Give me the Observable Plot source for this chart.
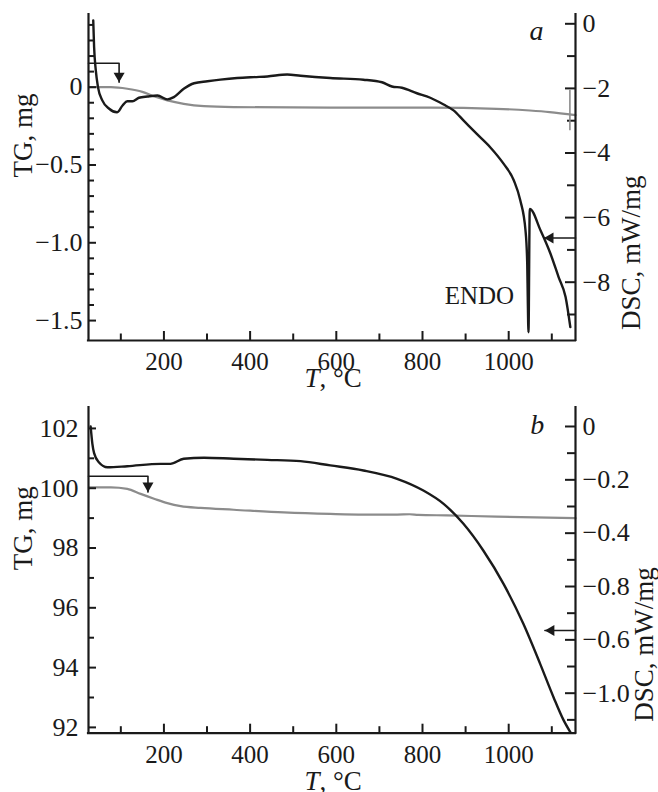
<!DOCTYPE html>
<html><head><meta charset="utf-8">
<script src="https://cdn.jsdelivr.net/npm/d3@7"></script>
<script src="https://cdn.jsdelivr.net/npm/@observablehq/plot@0.6"></script>
<style>
body{margin:0;background:#fff;}
#chart svg{display:block;}
</style></head><body><div id="chart"></div>
<script>
// ---------- shared x axis ----------
const xDomain = [25, 1155];
const xMajorTicks = [200, 400, 600, 800, 1000];
const xTickLabels = ["200", "400", "600", "800", "1000"];
const xMinorTicks = [100, 300, 500, 700, 900, 1100];

// ---------- panel a ----------
const aTgDomain = [-1.628, 0.467];
const aDscDomain = [-9.805, 0.288];
const aTgTicks = [0, -0.5, -1.0, -1.5];
const aTgTickLabels = ["0", "−0.5", "−1.0", "−1.5"];
const aTgMinorTicks = [0.4, 0.3, 0.2, 0.1, -0.1, -0.2, -0.3, -0.4, -0.6, -0.7, -0.8, -0.9, -1.1, -1.2, -1.3, -1.4];
const aDscTicks = [0, -2, -4, -6, -8];
const aDscTickLabels = ["0", "−2", "−4", "−6", "−8"];
const aDscMinorTicks = [-1, -3, -5, -7, -9];

const aDscT = [36, 38, 42, 47, 57, 73, 91, 104, 115, 127, 142, 162, 185, 208, 223, 246, 270, 301, 331, 370, 409, 440, 486, 517, 586, 663, 706, 729, 752, 787, 818, 849, 872, 895, 926, 957, 988, 1012, 1027, 1039, 1043, 1044.2, 1045.9, 1048.9, 1074, 1097, 1116, 1132, 1143];
const aDscV = [0.10, -0.72, -1.45, -1.96, -2.37, -2.63, -2.74, -2.53, -2.40, -2.40, -2.29, -2.25, -2.22, -2.34, -2.27, -2.01, -1.84, -1.78, -1.73, -1.68, -1.65, -1.63, -1.57, -1.61, -1.68, -1.73, -1.81, -1.94, -1.98, -2.15, -2.29, -2.50, -2.68, -2.99, -3.41, -3.82, -4.33, -4.85, -5.47, -6.40, -7.43, -8.46, -9.55, -5.73, -6.40, -7.12, -7.85, -8.46, -9.39];
const aTgT = [26, 77, 115, 150, 180, 208, 246, 293, 362, 586, 818, 972, 1049, 1095, 1155];
const aTgV = [0.0, 0.0, -0.01, -0.03, -0.062, -0.085, -0.107, -0.122, -0.128, -0.132, -0.132, -0.139, -0.15, -0.16, -0.18];

const aArrowLeftT = [25, 96, 96];
const aArrowLeftTg = [0.154, 0.154, 0.032];
const aArrowRightT = [1155, 1082];
const aArrowRightDsc = [-6.63, -6.63];
const aBarT = [1142];
const aBarTg = [-0.02, -0.28];
const aEndo = {T: 932, dsc: -8.67, label: "ENDO"};

// ---------- panel b ----------
const bTgDomain = [91.806, 102.70];
const bDscDomain = [-1.150, 0.0712];
const bTgTicks = [102, 100, 98, 96, 94, 92];
const bTgTickLabels = ["102", "100", "98", "96", "94", "92"];
const bTgMinorTicks = [101, 99, 97, 95, 93];
const bDscTicks = [0, -0.2, -0.4, -0.6, -0.8, -1.0];
const bDscTickLabels = ["0", "−0.2", "−0.4", "−0.8", "−0.6", "−1.0"];
const bDscMinorTicks = [-0.1, -0.3, -0.5, -0.7, -0.9, -1.1];

const bDscT = [30, 34, 38, 49, 69, 115, 192, 215, 246, 293, 362, 440, 517, 586, 663, 741, 802, 849, 895, 941, 988, 1034, 1073, 1104, 1127, 1143];
const bDscV = [0.0, -0.065, -0.10, -0.134, -0.153, -0.149, -0.14, -0.14, -0.121, -0.117, -0.121, -0.125, -0.130, -0.146, -0.165, -0.196, -0.24, -0.29, -0.365, -0.465, -0.59, -0.74, -0.89, -1.015, -1.10, -1.146];
const bTgT = [26, 77, 115, 146, 177, 208, 239, 285, 362, 478, 586, 663, 741, 770, 790, 856, 972, 1155];
const bTgV = [100.03, 100.03, 99.98, 99.81, 99.65, 99.50, 99.40, 99.34, 99.28, 99.19, 99.14, 99.12, 99.12, 99.13, 99.11, 99.09, 99.05, 99.0];

const bArrowLeftT = [25, 163, 163];
const bArrowLeftTg = [100.40, 100.40, 99.87];
const bArrowRightT = [1155, 1084];
const bArrowRightDsc = [-0.765, -0.765];

const INK = "#1a1a1a", GREY = "#8c8c8c";
const FONT = "'Liberation Serif', 'Times New Roman', serif";

function panel(cfg) {
  const W = 658, H = cfg.height, mt = cfg.marginTop, mb = cfg.marginBottom, ml = 88, mr = 83;
  const fw = W - ml - mr, fh = H - mt - mb;
  const toY = d3.scaleLinear().domain(cfg.dscDomain).range(cfg.tgDomain);
  const dsc = cfg.dscT.map((t, i) => ({T: t, v: toY(cfg.dscV[i])}));
  const tg = cfg.tgT.map((t, i) => ({T: t, v: cfg.tgV[i]}));
  const arrL = cfg.arrowLT.map((t, i) => ({T: t, v: cfg.arrowLTg[i]}));
  const arrR = cfg.arrowRT.map((t, i) => ({T: t, v: toY(cfg.arrowRDsc[i])}));
  const tipL = arrL[arrL.length - 1], tipR = arrR[arrR.length - 1];
  const marks = [
    // curves
    Plot.line(tg, {x: "T", y: "v", stroke: GREY, strokeWidth: 2.2, curve: "monotone-x"}),
    Plot.line(dsc, {x: "T", y: "v", stroke: INK, strokeWidth: 2.4, curve: "monotone-x"}),
    // axis lines
    Plot.ruleX([xDomain[0], xDomain[1]], {stroke: INK, strokeWidth: 2.2, strokeLinecap: "square"}),
    Plot.ruleY([cfg.tgDomain[0]], {stroke: INK, strokeWidth: 2.2, strokeLinecap: "square"}),
    // x ticks (inward)
    Plot.ruleX(xMajorTicks, {insetTop: fh - 9, stroke: INK, strokeWidth: 2}),
    Plot.ruleX(xMinorTicks, {insetTop: fh - 6.5, stroke: INK, strokeWidth: 2}),
    // left ticks
    Plot.ruleY(cfg.tgTicks, {insetRight: fw - 8, stroke: INK, strokeWidth: 2}),
    Plot.ruleY(cfg.tgMinor, {insetRight: fw - 6, stroke: INK, strokeWidth: 2}),
    // right ticks
    Plot.ruleY(cfg.dscTicks.map(toY), {insetLeft: fw - 10, stroke: INK, strokeWidth: 2}),
    Plot.ruleY(cfg.dscMinor.map(toY), {insetLeft: fw - 8, stroke: INK, strokeWidth: 2}),
    // tick labels
    Plot.text(xMajorTicks, {x: d => d, text: (d, i) => xTickLabels[i], frameAnchor: "bottom", lineAnchor: "bottom", dy: 29.5, fontSize: 25, fill: INK}),
    Plot.text(cfg.tgTicks, {y: d => d, text: (d, i) => cfg.tgLabels[i], frameAnchor: "left", textAnchor: "end", dx: -cfg.leftPad, fontSize: 26, fill: INK}),
    Plot.text(cfg.dscTicks.map(toY), {y: d => d, text: (d, i) => cfg.dscLabels[i], frameAnchor: "right", textAnchor: "start", dx: 7, fontSize: 26, fill: INK}),
    // axis titles
    Plot.text(["TG, mg"], {frameAnchor: "left", rotate: -90, dx: -65.5, fontSize: 27, fill: INK}),
    Plot.text(["DSC, mW/mg"], {frameAnchor: "right", rotate: -90, dx: cfg.dscLabelDx, dy: cfg.dscLabelDy, fontSize: 27, fill: INK}),
    Plot.text(["T"], {frameAnchor: "bottom", textAnchor: "end", lineAnchor: "bottom", dx: -12.5, dy: cfg.xLabelDy, fontSize: 27, fontStyle: "italic", fill: INK}),
    Plot.text([", °C"], {frameAnchor: "bottom", textAnchor: "start", lineAnchor: "bottom", dx: -12.5, dy: cfg.xLabelDy, fontSize: 27, fill: INK}),
    Plot.text([cfg.letter], {frameAnchor: "top-right", textAnchor: "middle", lineAnchor: "bottom", dx: cfg.letterDx, dy: cfg.letterDy, fontSize: 28, fontStyle: "italic", fill: INK}),
    // annotation arrows
    Plot.line(arrL, {x: "T", y: "v", stroke: INK, strokeWidth: 1.6}),
    Plot.dot([tipL], {x: "T", y: "v", symbol: "triangle", r: 4.1, rotate: 180, fill: INK, stroke: "none", dy: -6.3}),
    Plot.line(arrR, {x: "T", y: "v", stroke: INK, strokeWidth: 1.6}),
    Plot.dot([tipR], {x: "T", y: "v", symbol: "triangle", r: 4.1, rotate: -90, fill: INK, stroke: "none", dx: 6.3})
  ];
  if (cfg.extra) marks.push(...cfg.extra(toY));
  return Plot.plot({
    width: W, height: H,
    marginTop: mt, marginBottom: mb, marginLeft: ml, marginRight: mr,
    x: {domain: xDomain, axis: null},
    y: {domain: cfg.tgDomain, axis: null},
    style: {fontFamily: FONT, background: "white", overflow: "visible", color: INK},
    marks
  });
}

const svgA = panel({
  height: 395, marginTop: 14, marginBottom: 55,
  tgDomain: aTgDomain, dscDomain: aDscDomain,
  tgTicks: aTgTicks, tgLabels: aTgTickLabels, tgMinor: aTgMinorTicks,
  dscTicks: aDscTicks, dscLabels: aDscTickLabels, dscMinor: aDscMinorTicks,
  dscT: aDscT, dscV: aDscV, tgT: aTgT, tgV: aTgV,
  arrowLT: aArrowLeftT, arrowLTg: aArrowLeftTg, arrowRT: aArrowRightT, arrowRDsc: aArrowRightDsc,
  leftPad: 6, dscLabelDx: 55.5, dscLabelDy: -2, xLabelDy: 46.7,
  letter: "a", letterDx: -39, letterDy: 25,
  extra: (toY) => [
    Plot.ruleX(aBarT, {x: d => d, y1: aBarTg[0], y2: aBarTg[1], stroke: GREY, strokeWidth: 1.6}),
    Plot.text([aEndo], {x: "T", y: d => toY(d.dsc), text: "label", lineAnchor: "bottom", fontSize: 25, fill: INK})
  ]
});
const svgB = panel({
  height: 397, marginTop: 12, marginBottom: 59.3,
  tgDomain: bTgDomain, dscDomain: bDscDomain,
  tgTicks: bTgTicks, tgLabels: bTgTickLabels, tgMinor: bTgMinorTicks,
  dscTicks: bDscTicks, dscLabels: bDscTickLabels, dscMinor: bDscMinorTicks,
  dscT: bDscT, dscV: bDscV, tgT: bTgT, tgV: bTgV,
  arrowLT: bArrowLeftT, arrowLTg: bArrowLeftTg, arrowRT: bArrowRightT, arrowRDsc: bArrowRightDsc,
  leftPad: 10, dscLabelDx: 68.5, dscLabelDy: -3, xLabelDy: 56.8,
  letter: "b", letterDx: -38.3, letterDy: 26
});
document.getElementById("chart").append(svgA, svgB);
</script></body></html>
